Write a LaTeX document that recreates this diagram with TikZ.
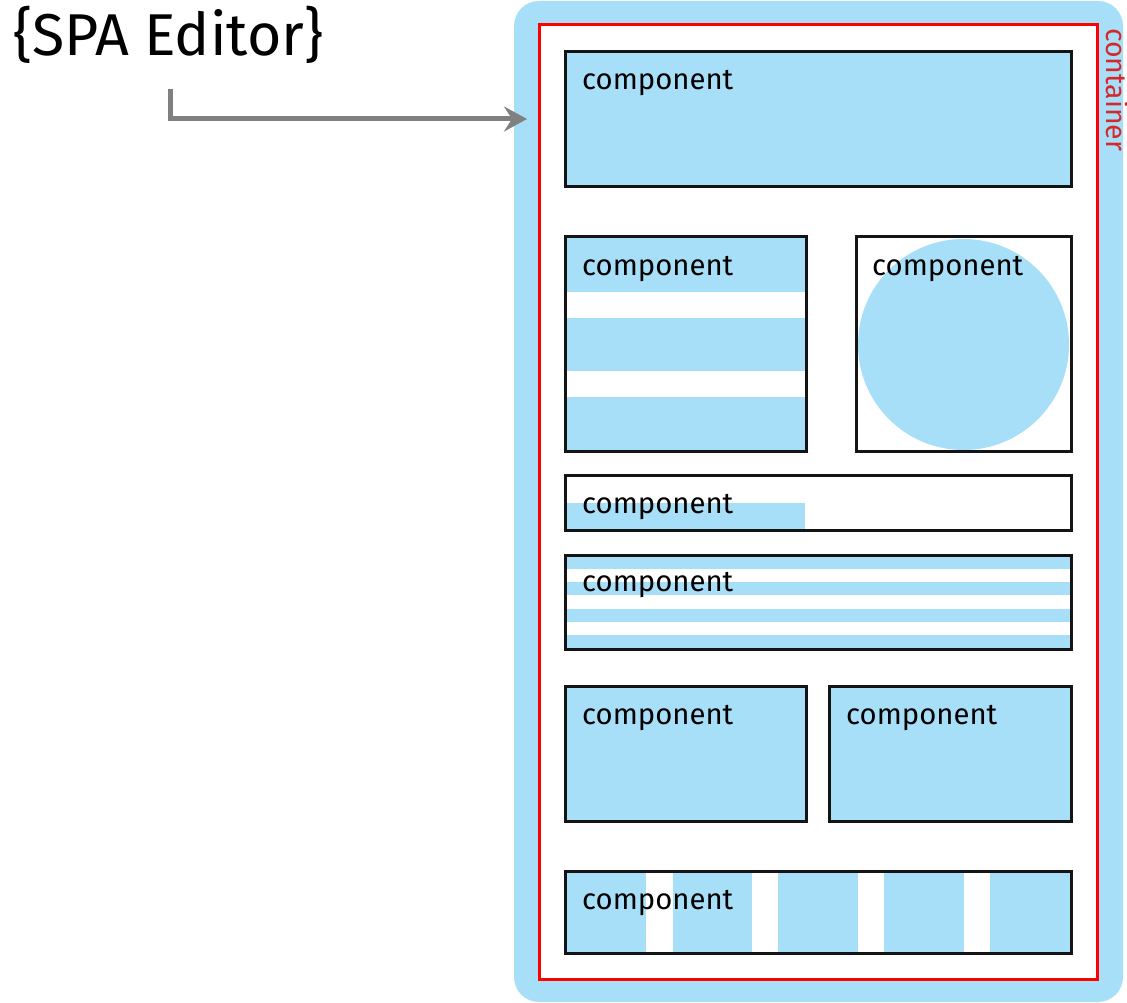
\documentclass[tikz,border=0pt]{standalone}
\usepackage{fontspec}
\setmainfont{Fira Sans}
\usetikzlibrary{arrows.meta}
\definecolor{lblue}{RGB}{168,223,248}
\definecolor{cred}{RGB}{255,0,0}
\definecolor{ctext}{RGB}{214,40,40}
\definecolor{agray}{RGB}{128,128,128}
\definecolor{bline}{RGB}{20,20,20}
\begin{document}
\begin{tikzpicture}[x=1pt,y=-1pt,
  box/.style={draw=bline, line width=3pt},
  lbl/.style={inner sep=0pt, anchor=base west, font=\fontsize{29.3}{30}\selectfont},
  conn/.style={draw=agray, line width=5pt, -{Stealth[length=23pt,width=25pt,inset=8pt]}}]
\useasboundingbox (0,0) rectangle (1127,1003);

% title
\node[inner sep=0pt, anchor=base west, font=\fontsize{59}{59}\selectfont] (title) at (13,56) {\{SPA Editor\}};

% outer container
\fill[lblue, rounded corners=25pt] (514,1) rectangle (1123,1002);
\draw[cred, line width=3pt, fill=white] (539,25) rectangle (1097,979);
\node[inner sep=0pt, anchor=base west, rotate=-90, text=ctext, font=\fontsize{28.5}{28}\selectfont] (cont) at (1106,28) {container};

% connector
\coordinate (astart) at (170,89);
\coordinate (atip) at (527,119);
\draw[conn] (astart) |- (atip);

% box 1
\draw[box, fill=lblue] (565,52) rectangle (1071,187);
\node[lbl] (c1) at (582,90) {component};

% box 2 (striped rows)
\fill[lblue] (565,237) rectangle (806,451);
\fill[white] (565,292) rectangle (806,318);
\fill[white] (565,371) rectangle (806,397);
\draw[box] (565,237) rectangle (806,451);
\node[lbl] (c2) at (582,275) {component};

% box 3 (circle)
\draw[box, fill=white] (856,237) rectangle (1071,451);
\fill[lblue] (963.5,344.5) circle[radius=105.5pt];
\draw[box] (856,237) rectangle (1071,451);
\node[lbl] (c3) at (872,275) {component};

% box 4 (progress bar)
\fill[white] (565,475) rectangle (1071,530);
\fill[lblue] (565,503) rectangle (805,530);
\draw[box] (565,475) rectangle (1071,530);
\node[lbl] (c4) at (582,513) {component};

% box 5 (horizontal stripes)
\fill[lblue] (565,555) rectangle (1071,649);
\fill[white] (565,569) rectangle (1071,582);
\fill[white] (565,595) rectangle (1071,609);
\fill[white] (565,622) rectangle (1071,635);
\draw[box] (565,555) rectangle (1071,649);
\node[lbl] (c5) at (582,591) {component};

% box 6a / 6b
\draw[box, fill=lblue] (565,686) rectangle (806,821);
\node[lbl] (c6) at (582,724) {component};
\draw[box, fill=lblue] (829,686) rectangle (1071,821);
\node[lbl] (c7) at (846,724) {component};

% box 7 (vertical stripes)
\fill[lblue] (565,871) rectangle (1071,953);
\fill[white] (646,871) rectangle (673,953);
\fill[white] (752,871) rectangle (778,953);
\fill[white] (858,871) rectangle (884,953);
\fill[white] (964,871) rectangle (990,953);
\draw[box] (565,871) rectangle (1071,953);
\node[lbl] (c8) at (582,909) {component};
\end{tikzpicture}
\end{document}
